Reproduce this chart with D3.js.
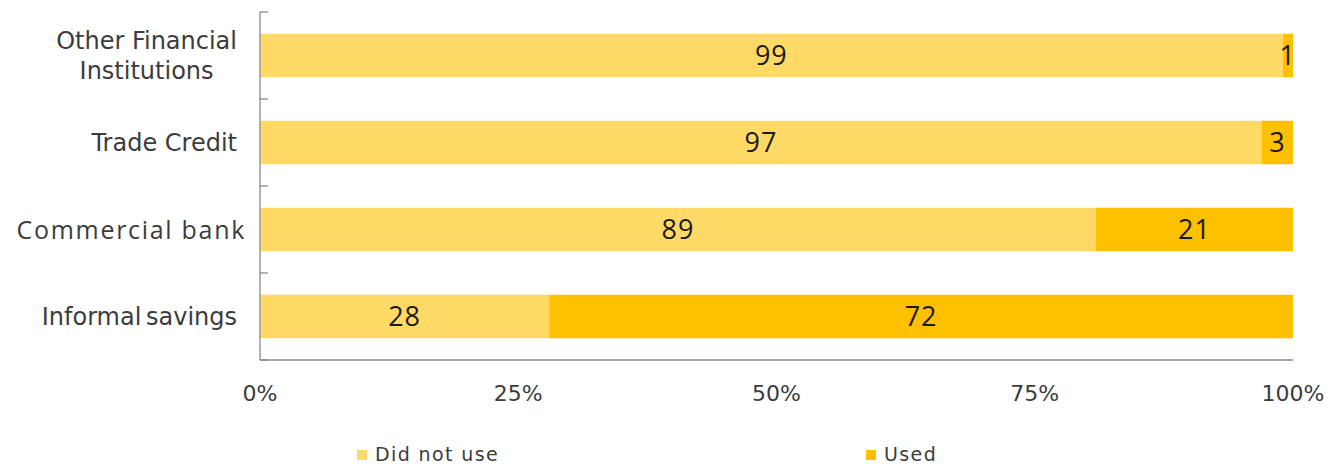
<!DOCTYPE html>
<html>
<head>
<meta charset="utf-8">
<script src="https://cdn.jsdelivr.net/npm/d3@7"></script>
<style>
  html, body { margin: 0; padding: 0; background: #fff; }
  svg { display: block; }
</style>
</head>
<body>
<svg id="chart" width="1338" height="467"></svg>
<script>
// Sources of finance, share of respondents who did / did not use each
const categories = ["Other Financial Institutions", "Trade Credit", "Commercial bank", "Informal savings"];
const didNotUse = [99, 97, 89, 28];
const used = [1, 3, 21, 72];
const seriesNames = ["Did not use", "Used"];
const seriesColors = ["#FFD966", "#FFC000"];
const xTickValues = [0, 0.25, 0.5, 0.75, 1];

const svg = d3.select("#chart");
const margin = { left: 260, right: 45, top: 12, bottom: 107 };
const W = 1338, H = 467;

const rows = categories.map((c, i) => ({ cat: c, a: didNotUse[i], b: used[i] }));

const x = d3.scaleLinear().domain([0, 1]).range([margin.left, W - margin.right]);
const y = d3.scaleBand().domain(categories)
  .range([margin.top, H - margin.bottom]).paddingInner(0.5).paddingOuter(0.25);

const numFont = "'Open Sans', 'Liberation Sans', sans-serif";
const textFont = "'DejaVu Sans', sans-serif";
const textColor = "#3c3c3c";

// stacked segments, normalised to 100% of each row
const layers = d3.stack().keys(["a", "b"]).offset(d3.stackOffsetExpand)(rows);

const g = svg.append("g");
layers.forEach((layer, li) => {
  g.selectAll(null).data(layer).enter().append("rect")
    .attr("x", d => x(d[0]))
    .attr("y", d => y(d.data.cat))
    .attr("width", d => x(d[1]) - x(d[0]))
    .attr("height", y.bandwidth())
    .attr("fill", seriesColors[li]);
});
layers.forEach((layer, li) => {
  g.selectAll(null).data(layer).enter().append("text")
    .attr("x", d => (x(d[0]) + x(d[1])) / 2)
    .attr("y", d => y(d.data.cat) + y.bandwidth() / 2)
    .attr("dy", "0.36em")
    .attr("text-anchor", "middle")
    .attr("font-family", numFont)
    .attr("font-size", 27)
    .attr("letter-spacing", 1)
    .attr("fill", "#1a1a1a")
    .text(d => li === 0 ? d.data.a : d.data.b);
});

// axes
const axisColor = "#8a8a8a";
const bottom = H - margin.bottom;
svg.append("line").attr("x1", margin.left).attr("x2", margin.left)
  .attr("y1", margin.top).attr("y2", bottom).attr("stroke", axisColor).attr("stroke-width", 1.3);
svg.append("line").attr("x1", margin.left).attr("x2", x(1))
  .attr("y1", bottom).attr("y2", bottom).attr("stroke", axisColor).attr("stroke-width", 1.3);

// category boundary ticks on the vertical axis
const sepYs = d3.range(categories.length + 1)
  .map(i => margin.top + i * (bottom - margin.top) / categories.length);
svg.selectAll(null).data(sepYs).enter().append("line")
  .attr("x1", margin.left).attr("x2", margin.left + 8)
  .attr("y1", d => d).attr("y2", d => d)
  .attr("stroke", axisColor).attr("stroke-width", 1.3);

// category labels
const labelRight = 237;
svg.selectAll(null).data(categories).enter().append("text")
  .attr("fill", textColor)
  .each(function (d) {
    const cy = y(d) + y.bandwidth() / 2;
    const t = d3.select(this);
    if (d === "Other Financial Institutions") {
      t.attr("font-family", textFont).attr("font-size", 24).attr("text-anchor", "middle");
      const l1 = t.append("tspan").attr("y", cy - 15).attr("dy", "0.36em").text("Other Financial");
      const w = l1.node().getComputedTextLength();
      const cx = labelRight - w / 2;
      l1.attr("x", cx);
      t.append("tspan").attr("x", cx).attr("y", cy + 15).attr("dy", "0.36em").text("Institutions");
    } else if (d === "Commercial bank") {
      t.attr("font-family", numFont).attr("font-size", 25).attr("text-anchor", "end")
        .attr("letter-spacing", 1.7)
        .attr("x", 246).attr("y", cy).attr("dy", "0.36em").text(d);
    } else {
      t.attr("font-family", textFont).attr("font-size", 24).attr("text-anchor", "end")
        .attr("word-spacing", d === "Informal savings" ? -3 : 0)
        .attr("x", labelRight).attr("y", cy).attr("dy", "0.36em").text(d);
    }
  });

// percentage tick labels
svg.selectAll(null).data(xTickValues).enter().append("text")
  .attr("x", d => x(d))
  .attr("y", 393)
  .attr("dy", "0.36em")
  .attr("text-anchor", "middle")
  .attr("font-family", textFont)
  .attr("font-size", 22)
  .attr("fill", textColor)
  .text(d3.format(".0%"));

// legend
const legendX = [357, 866];
seriesNames.forEach((name, i) => {
  svg.append("rect").attr("x", legendX[i]).attr("y", 450)
    .attr("width", 10).attr("height", 10).attr("fill", seriesColors[i]);
  svg.append("text").attr("x", legendX[i] + 18).attr("y", 454).attr("dy", "0.36em")
    .attr("font-family", textFont).attr("font-size", 19).attr("letter-spacing", 1.4)
    .attr("fill", textColor).text(name);
});
</script>
</body>
</html>
